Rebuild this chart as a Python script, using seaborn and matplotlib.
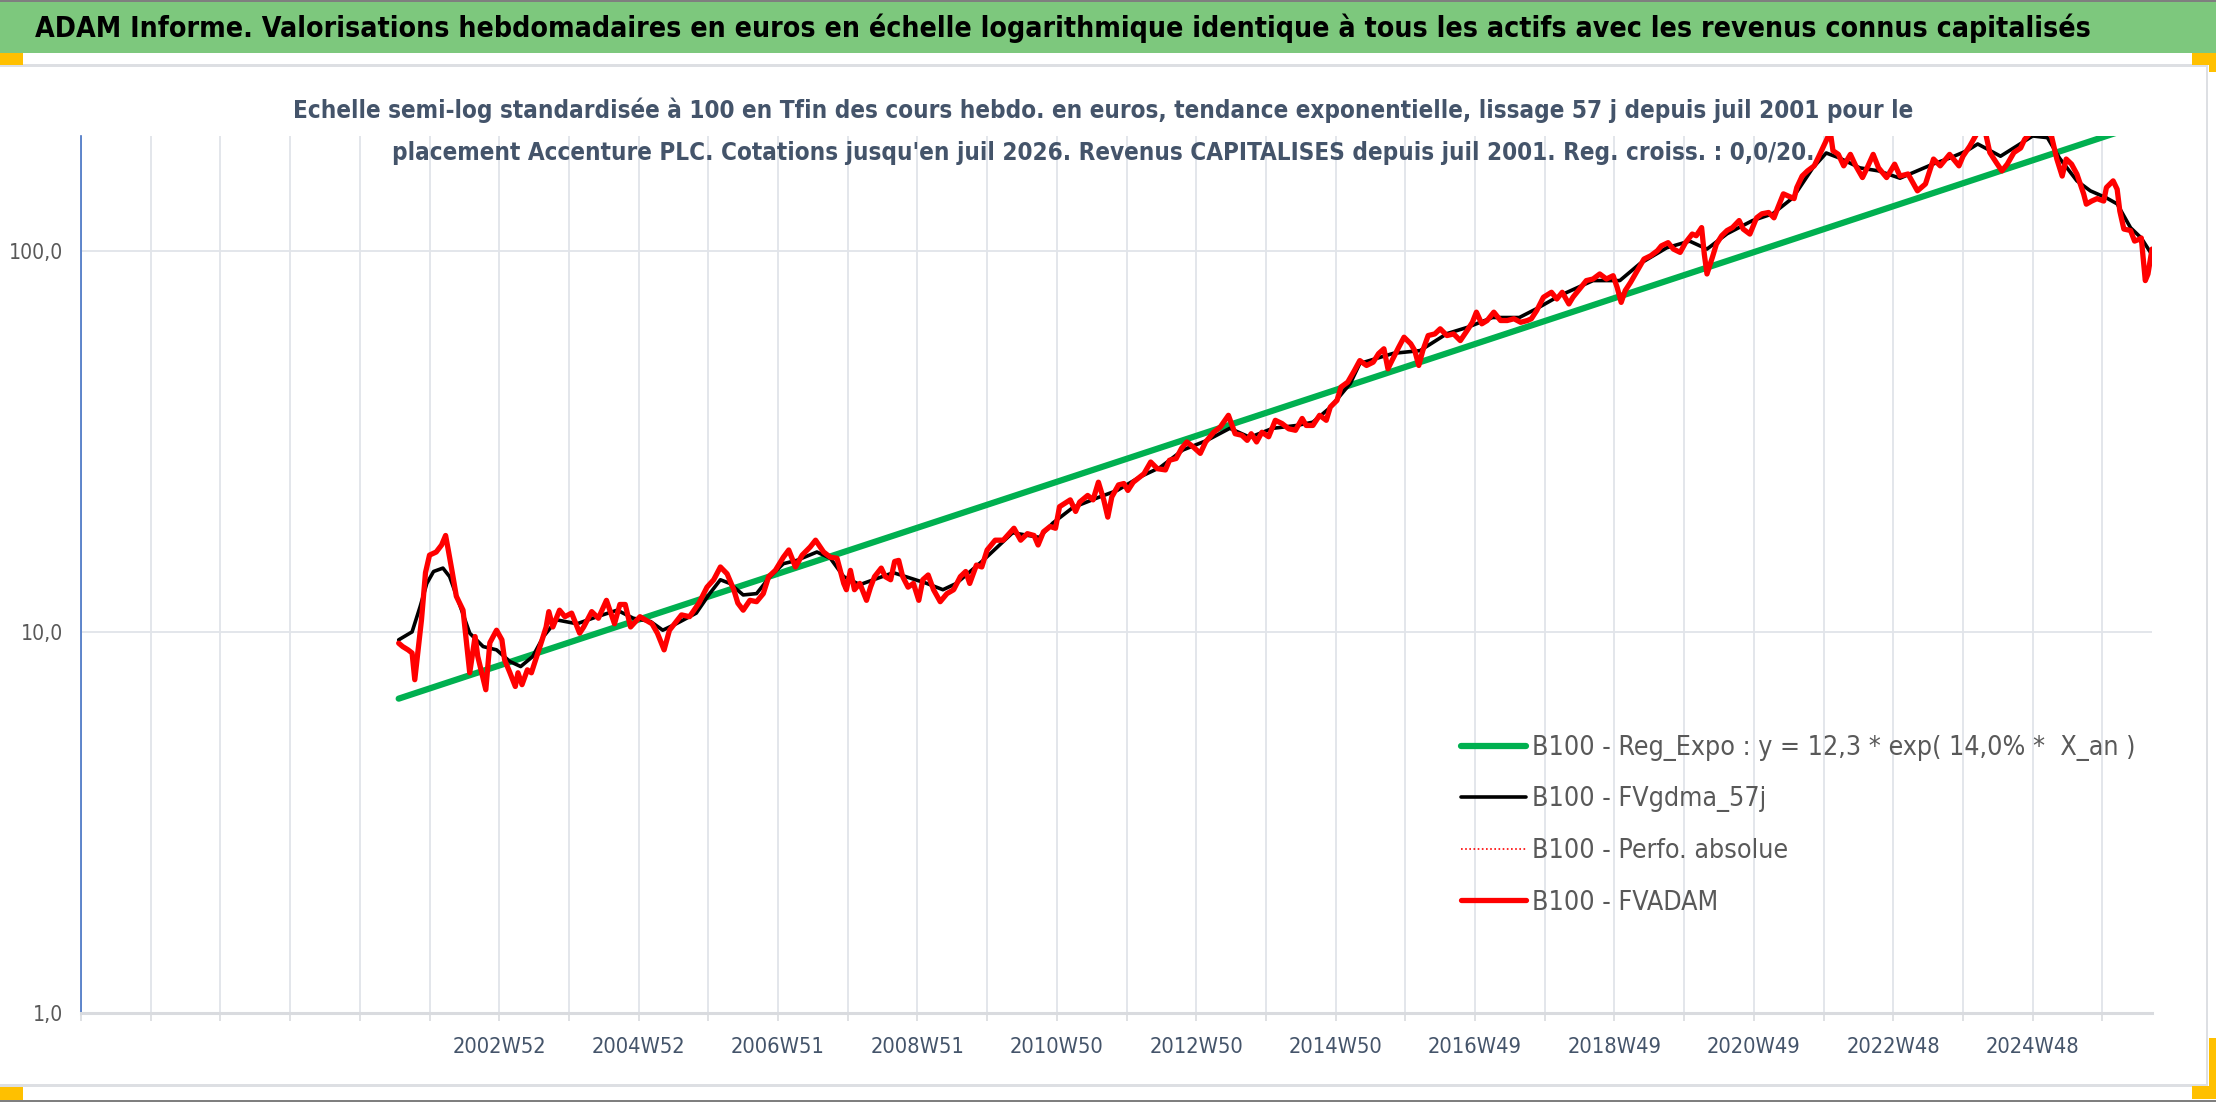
import seaborn as sns
import matplotlib.pyplot as plt
import pandas as pd
from matplotlib.patches import Rectangle
from matplotlib.ticker import FixedLocator, FixedFormatter, NullLocator

sns.set_theme(style="white")
plt.rcParams['font.family'] = ['Liberation Sans Narrow', 'DejaVu Sans']
plt.rcParams['font.stretch'] = 'condensed'

# semaines comptees depuis le debut de l'axe (0 = 1996W52 environ)
# B100 - FVADAM (rouge)
fvadam = [
    (237, 9.34), (240, 9.15), (244, 8.97), (247, 8.80), (249, 7.49), (254, 10.75), (257, 14.3), (260, 15.9),
    (265, 16.2), (269, 16.9), (272, 17.9), (274, 16.4), (277, 14.3), (280, 12.4), (285, 11.4), (290, 7.81),
    (294, 9.72), (296, 8.62), (302, 7.05), (305, 9.36), (310, 10.1), (314, 9.53), (316, 8.45), (320, 7.81),
    (324, 7.19), (326, 7.81), (329, 7.27), (333, 7.95), (336, 7.81), (340, 8.62), (344, 9.53), (347, 10.3),
    (349, 11.3), (352, 10.3), (357, 11.4), (361, 10.96), (366, 11.2), (372, 9.92), (375, 10.3), (381, 11.3),
    (386, 10.86), (392, 12.1), (398, 10.5), (402, 11.8), (406, 11.8), (410, 10.3), (417, 10.96), (426, 10.5),
    (430, 9.92), (435, 8.97), (439, 10.1), (448, 11.08), (454, 10.96), (461, 11.9), (467, 13.1), (472, 13.7),
    (477, 14.8), (482, 14.2), (487, 12.9), (490, 11.9), (494, 11.4), (499, 12.1), (504, 12.0), (509, 12.6),
    (513, 13.96), (518, 14.5), (524, 15.7), (528, 16.4), (533, 14.8), (538, 15.9), (544, 16.7), (548, 17.4),
    (554, 16.2), (559, 15.7), (564, 15.6), (569, 13.4), (571, 12.9), (574, 14.5), (577, 12.9), (581, 13.4),
    (586, 12.1), (589, 13.1), (592, 13.96), (597, 14.7), (600, 13.96), (604, 13.7), (607, 15.3), (610, 15.4),
    (613, 13.96), (617, 13.1), (621, 13.4), (625, 12.1), (628, 13.7), (632, 14.1), (636, 12.9), (641, 12.0),
    (646, 12.6), (651, 12.9), (656, 13.96), (660, 14.4), (663, 13.4), (668, 14.97), (672, 14.8), (676, 16.4),
    (682, 17.4), (688, 17.4), (696, 18.7), (701, 17.4), (706, 18.1), (711, 17.9), (714, 16.9), (718, 18.3),
    (723, 18.9), (727, 18.7), (730, 21.3), (738, 22.2), (742, 20.7), (745, 21.9), (751, 22.8), (755, 22.2),
    (759, 24.7), (763, 22.2), (766, 20.0), (769, 22.6), (774, 24.3), (778, 24.5), (781, 23.5), (785, 24.7),
    (793, 26.0), (798, 27.9), (803, 26.8), (809, 26.6), (812, 28.2), (817, 28.5), (821, 30.3), (825, 31.5),
    (830, 30.5), (835, 29.4), (839, 31.5), (845, 33.4), (850, 34.5), (856, 37.0), (861, 33.1), (866, 32.8),
    (870, 31.8), (873, 33.1), (877, 31.5), (881, 33.4), (886, 32.5), (891, 35.9), (896, 35.2), (901, 34.1),
    (906, 33.8), (911, 36.3), (914, 34.8), (919, 34.8), (924, 37.0), (929, 35.9), (932, 38.9), (937, 40.5),
    (940, 43.9), (945, 45.2), (950, 48.5), (954, 51.5), (959, 50.0), (964, 51.0), (968, 53.7), (972, 55.3),
    (975, 49.0), (978, 51.5), (983, 55.8), (987, 59.3), (992, 57.0), (995, 54.7), (998, 50.0), (1001, 54.7),
    (1005, 59.9), (1010, 60.5), (1014, 62.4), (1019, 59.9), (1024, 60.5), (1029, 58.1), (1034, 61.7), (1038, 64.9),
    (1041, 69.0), (1045, 64.3), (1049, 65.6), (1054, 69.0), (1059, 65.6), (1064, 65.6), (1069, 66.3), (1074, 64.9),
    (1079, 65.6), (1082, 66.3), (1086, 69.7), (1091, 75.5), (1097, 77.8), (1101, 74.7), (1105, 77.8), (1110, 72.5),
    (1113, 75.5), (1118, 79.4), (1123, 83.5), (1128, 84.3), (1133, 86.9), (1138, 84.3), (1143, 86.0), (1146, 80.1),
    (1149, 73.2), (1152, 78.6), (1156, 82.6), (1161, 88.6), (1166, 95.1), (1171, 97.0), (1176, 100.0), (1179, 103.0),
    (1184, 105.0), (1188, 101.0), (1193, 99.0), (1197, 105.0), (1202, 110.6), (1205, 109.5), (1209, 115.0), (1211, 98.0),
    (1213, 86.9), (1217, 96.0), (1220, 104.0), (1224, 109.5), (1228, 113.0), (1232, 115.0), (1237, 120.0), (1240, 114.0),
    (1245, 110.6), (1250, 122.0), (1254, 125.0), (1259, 126.0), (1263, 122.0), (1266, 130.0), (1270, 141.0), (1274, 139.0),
    (1278, 137.0), (1280, 146.5), (1284, 157.0), (1288, 162.0), (1293, 167.0), (1296, 175.5), (1300, 188.0), (1305, 205.0),
    (1307, 183.0), (1311, 179.0), (1315, 167.0), (1320, 179.0), (1324, 167.0), (1329, 155.6), (1332, 163.6), (1337, 179.0),
    (1341, 165.0), (1347, 155.6), (1353, 168.7), (1357, 157.0), (1363, 159.0), (1370, 143.6), (1376, 149.7), (1382, 174.0),
    (1387, 167.0), (1394, 179.0), (1401, 167.0), (1404, 177.0), (1409, 188.0), (1415, 205.0), (1420, 210.0), (1424, 181.0),
    (1429, 170.0), (1433, 162.0), (1437, 168.7), (1442, 181.0), (1447, 186.0), (1450, 196.0), (1455, 205.0), (1467, 205.0),
    (1470, 200.0), (1474, 174.0), (1478, 157.0), (1481, 174.0), (1485, 168.7), (1489, 158.8), (1494, 141.0), (1496, 132.5),
    (1500, 135.0), (1504, 137.0), (1509, 135.0), (1511, 146.5), (1516, 152.5), (1519, 145.0), (1521, 127.0), (1524, 114.0),
    (1529, 113.0), (1532, 106.0), (1535, 107.0), (1537, 108.0), (1540, 83.5), (1542, 86.9), (1545, 101.0),
]

# B100 - FVgdma_57j (noir)
gdma = [
    (237, 9.53), (247, 10.0), (253, 11.65), (258, 13.4), (263, 14.4), (270, 14.7), (275, 13.96), (283, 11.65),
    (290, 9.92), (300, 9.15), (310, 8.97), (320, 8.36), (328, 8.11), (337, 8.62), (345, 9.72), (355, 10.75),
    (370, 10.5), (385, 10.96), (400, 11.4), (412, 10.86), (425, 10.64), (434, 10.1), (444, 10.5), (459, 11.2),
    (469, 12.6), (477, 13.7), (484, 13.4), (494, 12.5), (504, 12.6), (514, 13.96), (524, 15.1), (534, 15.4),
    (549, 16.2), (559, 15.6), (569, 13.96), (581, 13.3), (606, 14.3), (631, 13.4), (643, 12.9), (653, 13.4),
    (673, 15.4), (695, 18.2), (715, 17.7), (725, 19.3), (740, 21.2), (760, 22.6), (773, 23.5), (790, 25.5),
    (805, 27.0), (822, 30.0), (840, 31.8), (857, 34.2), (872, 32.4), (889, 34.2), (907, 34.8), (919, 35.5),
    (932, 38.8), (947, 44.9), (954, 50.6), (979, 53.8), (999, 54.7), (1019, 60.6), (1034, 62.9), (1053, 66.8),
    (1073, 66.8), (1086, 70.5), (1103, 76.2), (1128, 83.5), (1148, 83.5), (1163, 92.5), (1183, 101.8), (1200, 106.0),
    (1213, 101.0), (1228, 110.8), (1247, 120.0), (1262, 125.0), (1277, 137.6), (1292, 165.0), (1302, 180.5), (1312, 175.0),
    (1327, 165.0), (1341, 162.0), (1357, 155.0), (1382, 169.0), (1394, 175.0), (1407, 183.0), (1415, 190.6), (1432, 177.0),
    (1456, 200.0), (1467, 198.0), (1476, 175.0), (1489, 152.5), (1499, 143.6), (1511, 137.6), (1519, 132.7), (1529, 114.9),
    (1537, 108.0), (1544, 98.8),
]

# B100 - Reg_Expo (vert) : extremites
reg_sem = [237, 1545]
reg_val = [6.68, 219.0]

tick_sem = [312, 416, 520, 624, 728, 832, 936, 1040, 1144, 1248, 1352, 1456]
tick_lab = ['2002W52', '2004W52', '2006W51', '2008W51', '2010W50', '2012W50',
            '2014W50', '2016W49', '2018W49', '2020W49', '2022W48', '2024W48']

labels = ['B100 - Reg_Expo : y = 12,3 * exp( 14,0% *  X_an )', 'B100 - FVgdma_57j',
          'B100 - Perfo. absolue', 'B100 - FVADAM']

df_rouge = pd.DataFrame(fvadam, columns=['sem', 'val'])
df_noir = pd.DataFrame(gdma, columns=['sem', 'val'])
df_vert = pd.DataFrame({'sem': reg_sem, 'val': reg_val})

W, H = 2216, 1102
fig = plt.figure(figsize=(W / 100, H / 100), dpi=100)
fig.patch.set_facecolor('white')
rend = fig.canvas.get_renderer()


def px_rect(x0, y0, x1, y1, color, z=0):
    fig.patches.append(Rectangle((x0 / W, 1 - y1 / H), (x1 - x0) / W, (y1 - y0) / H,
                                 transform=fig.transFigure, color=color, zorder=z, lw=0))


def size_for(s, target_px, base=20, **kw):
    # taille de police donnant la largeur voulue (en pixels)
    t = fig.text(0, 0, s, fontsize=base, **kw)
    w = t.get_window_extent(renderer=rend).width
    t.remove()
    return base * target_px / w


# bandeau et cadre
px_rect(0, 0, W, 2, '#7F7F7F')
px_rect(0, 2, W, 53, '#7DC87D')
px_rect(0, 64, 2207, 67, '#DDDFE3')
px_rect(0, 1084, 2207, 1087, '#DDDFE3')
px_rect(2206, 64, 2208, 1087, '#DDDFE3')
px_rect(0, 1100, W, H, '#7F7F7F')
px_rect(0, 53, 23, 65, '#FFC000')
px_rect(2192, 53, W, 65, '#FFC000')
px_rect(2209, 65, W, 72, '#FFC000')
px_rect(2209, 1038, W, 1086, '#FFC000')
px_rect(2192, 1086, W, 1099, '#FFC000')
px_rect(0, 1087, 23, 1100, '#FFC000')

titre = "ADAM Informe. Valorisations hebdomadaires en euros en échelle logarithmique identique à tous les actifs avec les revenus connus capitalisés"
sous1 = "Echelle semi-log standardisée à 100 en Tfin des cours hebdo. en euros, tendance exponentielle, lissage 57 j depuis juil 2001 pour le"
sous2 = "placement Accenture PLC. Cotations jusqu'en juil 2026. Revenus CAPITALISES depuis juil 2001. Reg. croiss. : 0,0/20."

fs_titre = size_for(titre, 2060, weight='bold')
fs_sous = size_for(sous1, 1620, weight='bold')
fig.text(35 / W, 1 - 28 / H, titre, ha='left', va='center', fontsize=fs_titre, weight='bold', color='black')
fig.text(1103 / W, 1 - 110 / H, sous1, ha='center', va='center', fontsize=fs_sous, weight='bold', color='#44546A')
fig.text(1103 / W, 1 - 153 / H, sous2, ha='center', va='center', fontsize=fs_sous, weight='bold', color='#44546A')

fs_x = size_for('2002W52', 94)
fs_y = size_for('100,0', 54)
fs_leg = size_for(labels[0], 600)

ax = fig.add_axes([81 / W, 1 - 1013 / H, (2152 - 81) / W, (1013 - 136) / H])
ax.set_facecolor('none')
ax.set_yscale('log')

sns.lineplot(data=df_vert, x='sem', y='val', ax=ax, color='#00B050', lw=4.5,
             solid_capstyle='round', label=labels[0], estimator=None, sort=False)
sns.lineplot(data=df_noir, x='sem', y='val', ax=ax, color='black', lw=2.6,
             label=labels[1], estimator=None, sort=False)
sns.lineplot(data=df_rouge, x='sem', y='val', ax=ax, color='#FF0000', lw=1.2,
             linestyle=(0, (1, 1.5)), label=labels[2], estimator=None, sort=False)
sns.lineplot(data=df_rouge, x='sem', y='val', ax=ax, color='#FF0000', lw=3.8,
             solid_joinstyle='round', label=labels[3], estimator=None, sort=False)

ax.set_xlim(0, 1545)
ax.set_ylim(1, 200)
ax.set_xlabel('')
ax.set_ylabel('')

grid_sem = list(range(0, 1546, 52))
ax.xaxis.set_major_locator(FixedLocator(grid_sem))
ax.xaxis.set_major_formatter(FixedFormatter([tick_lab[tick_sem.index(s)] if s in tick_sem else '' for s in grid_sem]))
ax.yaxis.set_major_locator(FixedLocator([1, 10, 100]))
ax.yaxis.set_major_formatter(FixedFormatter(['1,0', '10,0', '100,0']))
ax.yaxis.set_minor_locator(NullLocator())

ax.grid(True, which='major', color='#E1E4E9', lw=1.3)
ax.set_axisbelow(True)
for s in ['top', 'right']:
    ax.spines[s].set_visible(False)
ax.spines['left'].set_color('#4472C4')
ax.spines['left'].set_linewidth(1.2)
ax.spines['bottom'].set_color('#D9DBDF')
ax.spines['bottom'].set_linewidth(2.2)

ax.tick_params(axis='x', direction='out', length=6, width=1.2, color='#D9DBDF',
               pad=11, labelsize=fs_x, labelcolor='#44546A', bottom=True)
ax.tick_params(axis='y', length=0, pad=13, labelsize=fs_y, labelcolor='#595959')

# legende : pas de 50 px entre lignes, premiere ligne centree vers y = 747
fs_leg_px = fs_leg * 100 / 72
tmp = fig.text(0, 0, labels[1], fontsize=fs_leg)
h_txt = tmp.get_window_extent(renderer=rend).height
tmp.remove()
spacing = (51.5 - h_txt) / fs_leg_px
leg = ax.legend(loc='upper left', bbox_to_anchor=(1461 / W, 1 - (748 - h_txt / 2) / H),
                bbox_transform=fig.transFigure, frameon=False, fontsize=fs_leg,
                handlelength=65 / fs_leg_px, handletextpad=6 / fs_leg_px,
                labelspacing=spacing, borderpad=0, borderaxespad=0)
for t in leg.get_texts():
    t.set_color('#595959')

fig.savefig('out.png', dpi=100)
